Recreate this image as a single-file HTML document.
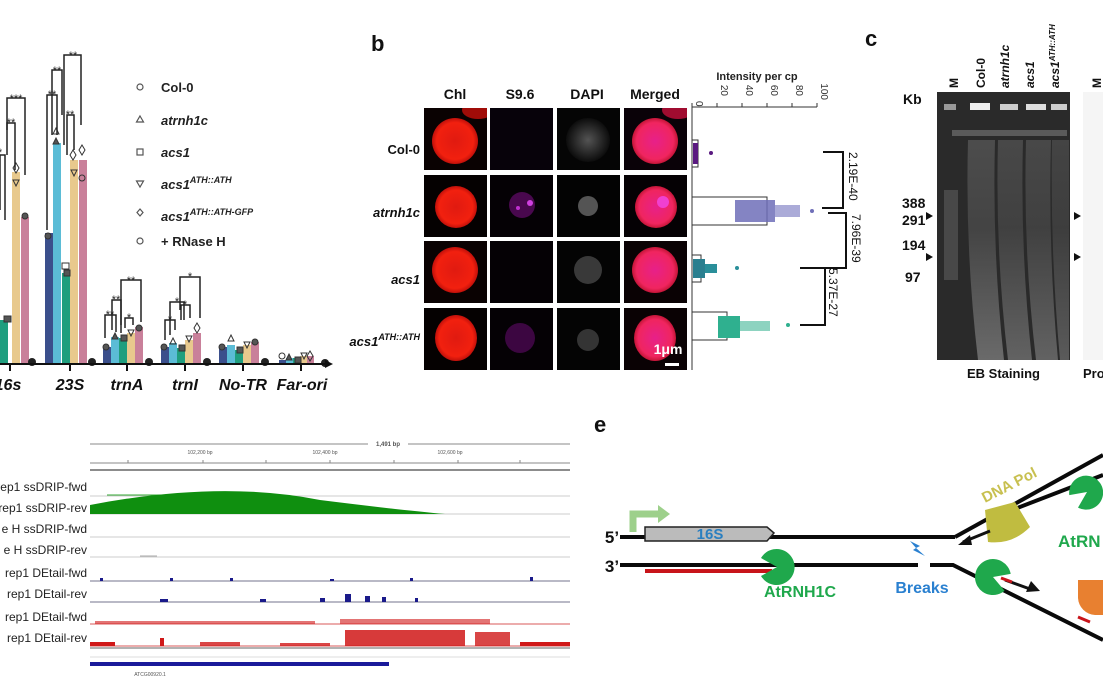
<!DOCTYPE html>
<html><head><meta charset="utf-8"><style>
html,body{margin:0;padding:0;background:#fff;}
svg{display:block;font-family:"Liberation Sans",Arial,sans-serif;}
</style></head><body>
<svg width="1103" height="678" viewBox="0 0 1103 678" xmlns="http://www.w3.org/2000/svg">
<!-- Panel a -->
<g>
<g>
<rect x="-20" y="227" width="20" height="137" fill="#5bbcd6"/>
<rect x="0" y="320" width="8" height="44" fill="#1f9e7e"/>
<rect x="12" y="172" width="8" height="192" fill="#e8c98d"/>
<rect x="21" y="217" width="8" height="147" fill="#c9809a"/>
<circle cx="32" cy="362" r="4" fill="#222"/>

<rect x="45" y="233" width="8" height="131" fill="#3b4f8c"/>
<rect x="53" y="143" width="8" height="221" fill="#5bbcd6"/>
<rect x="62" y="273" width="8" height="91" fill="#1f9e7e"/>
<rect x="70" y="160" width="8" height="204" fill="#e8c98d"/>
<rect x="79" y="160" width="8" height="204" fill="#c9809a"/>
<circle cx="92" cy="362" r="4" fill="#222"/>

<rect x="103" y="347" width="8" height="17" fill="#3b4f8c"/>
<rect x="111" y="337" width="8" height="27" fill="#5bbcd6"/>
<rect x="119" y="338" width="8" height="26" fill="#1f9e7e"/>
<rect x="127" y="333" width="8" height="31" fill="#e8c98d"/>
<rect x="135" y="327" width="8" height="37" fill="#c9809a"/>
<circle cx="149" cy="362" r="4" fill="#222"/>

<rect x="161" y="347" width="8" height="17" fill="#3b4f8c"/>
<rect x="169" y="343" width="8" height="21" fill="#5bbcd6"/>
<rect x="177" y="348" width="8" height="16" fill="#1f9e7e"/>
<rect x="185" y="340" width="8" height="24" fill="#e8c98d"/>
<rect x="193" y="333" width="8" height="31" fill="#c9809a"/>
<circle cx="207" cy="362" r="4" fill="#222"/>

<rect x="219" y="347" width="8" height="17" fill="#3b4f8c"/>
<rect x="227" y="345" width="8" height="19" fill="#5bbcd6"/>
<rect x="235" y="350" width="8" height="14" fill="#1f9e7e"/>
<rect x="243" y="345" width="8" height="19" fill="#e8c98d"/>
<rect x="251" y="342" width="8" height="22" fill="#c9809a"/>
<circle cx="265" cy="362" r="4" fill="#222"/>

<rect x="279" y="360" width="7" height="4" fill="#3b4f8c"/>
<rect x="286" y="358" width="7" height="6" fill="#5bbcd6"/>
<rect x="293" y="358" width="7" height="6" fill="#1f9e7e"/>
<rect x="300" y="356" width="7" height="8" fill="#e8c98d"/>
<rect x="307" y="356" width="7" height="8" fill="#c9809a"/>
<circle cx="325" cy="363" r="4" fill="#222"/>
</g>
<g fill="#555" stroke="#333" stroke-width="1">
<rect x="4" y="316" width="7" height="6"/><rect x="62" y="263" width="7" height="6" fill="none"/><rect x="64" y="270" width="6" height="6"/>
<circle cx="48" cy="236" r="3"/><path d="M56 128l3 6h-6z" fill="none"/><path d="M56 138l3 6h-6z"/>
<path d="M73 150l3 5l-3 5l-3-5z" fill="none"/><path d="M71 170h6l-3 6z" fill="none"/><circle cx="82" cy="178" r="3" fill="none"/><path d="M82 145l3 5l-3 5l-3-5z" fill="none"/>
<path d="M16 163l3 5l-3 5l-3-5z" fill="none"/><path d="M13 180h6l-3 6z" fill="none"/><circle cx="25" cy="216" r="3"/>
<circle cx="106" cy="347" r="3"/><path d="M115 333l3 6h-6z"/><rect x="121" y="335" width="6" height="6"/><path d="M128 330h6l-3 6z" fill="none"/><circle cx="139" cy="328" r="3"/>
<circle cx="164" cy="347" r="3"/><path d="M173 338l3 6h-6z" fill="none"/><rect x="179" y="345" width="6" height="6"/><path d="M186 336h6l-3 6z" fill="none"/><path d="M197 323l3 5l-3 5l-3-5z" fill="none"/>
<circle cx="222" cy="347" r="3"/><path d="M231 335l3 6h-6z" fill="none"/><rect x="237" y="347" width="6" height="6"/><path d="M244 342h6l-3 6z" fill="none"/><circle cx="255" cy="342" r="3"/>
<circle cx="282" cy="356" r="3" fill="none"/><path d="M289 354l3 6h-6z"/><rect x="295" y="357" width="6" height="6"/><path d="M301 353h6l-3 6z" fill="none"/><path d="M310 351l3 5l-3 5l-3-5z" fill="none"/>
</g>
<line x1="0" y1="364" x2="328" y2="364" stroke="#111" stroke-width="2"/>
<path d="M333 364l-8-4v8z" fill="#111"/>
<g stroke="#111" stroke-width="2">
<line x1="10" y1="364" x2="10" y2="371"/><line x1="70" y1="364" x2="70" y2="371"/><line x1="127" y1="364" x2="127" y2="371"/><line x1="185" y1="364" x2="185" y2="371"/><line x1="243" y1="364" x2="243" y2="371"/><line x1="301" y1="364" x2="301" y2="371"/>
</g>
<g font-size="16" font-weight="bold" font-style="italic" fill="#111" text-anchor="middle">
<text x="8" y="390">16s</text><text x="70" y="390">23S</text><text x="127" y="390">trnA</text><text x="185" y="390">trnI</text><text x="243" y="390">No-TR</text><text x="302" y="390">Far-ori</text>
</g>
<g stroke="#222" stroke-width="1.5" fill="none">
<path d="M0 210V155H5V220"/>
<path d="M7 130V98H25V175"/>
<path d="M7 155V123H15V170"/>
<path d="M47 230V95H57V135"/>
<path d="M52 135V70H62V115"/>
<path d="M64 145V55H81V125"/>
<path d="M67 155V115H74V150"/>
<path d="M105 338V315H116V332"/>
<path d="M112 330V300H121V325"/>
<path d="M121 333V280H141V322"/>
<path d="M125 328V318H133V325"/>
<path d="M165 340V320H175V330"/>
<path d="M170 335V302H184V320"/>
<path d="M181 320V305H190V318"/>
<path d="M180 310V277H200V318"/>
</g>
<g font-size="11" fill="#222" text-anchor="middle">
<text x="0" y="156">*</text><text x="16" y="102">***</text><text x="11" y="126">**</text>
<text x="52" y="98">**</text><text x="57" y="74">**</text><text x="73" y="59">**</text><text x="70" y="118">**</text>
<text x="110" y="318">**</text><text x="116" y="303">**</text><text x="131" y="284">**</text><text x="129" y="321">*</text>
<text x="170" y="323">*</text><text x="177" y="305">*</text><text x="185" y="308">*</text><text x="190" y="280">*</text>
</g>
<g fill="none" stroke="#555" stroke-width="1.2">
<circle cx="140" cy="87" r="3"/>
<path d="M140 116l3.5 6h-7z"/>
<rect x="137" y="149" width="6" height="6"/>
<path d="M136.5 181h7l-3.5 6z"/>
<path d="M140 209l3 3.5l-3 3.5l-3-3.5z"/>
<circle cx="140" cy="241" r="3"/>
</g>
<g font-size="13" font-weight="bold" fill="#222">
<text x="161" y="92">Col-0</text>
<text x="161" y="125" font-style="italic">atrnh1c</text>
<text x="161" y="157" font-style="italic">acs1</text>
<text x="161" y="189" font-style="italic">acs1<tspan font-size="9" dy="-6">ATH::ATH</tspan></text>
<text x="161" y="221" font-style="italic">acs1<tspan font-size="9" dy="-6">ATH::ATH-GFP</tspan></text>
<text x="161" y="246">+ RNase H</text>
</g>
</g>

<!-- Panel b -->
<g>
<text x="371" y="51" font-size="22" font-weight="bold" fill="#111">b</text>
<g font-size="14" font-weight="bold" fill="#111" text-anchor="middle">
<text x="455" y="99">Chl</text><text x="520" y="99">S9.6</text><text x="587" y="99">DAPI</text><text x="655" y="99">Merged</text>
</g>
<defs>
<radialGradient id="red" cx="50%" cy="50%" r="50%"><stop offset="0" stop-color="#e01a10"/><stop offset="0.8" stop-color="#f2200f"/><stop offset="1" stop-color="#c0100a"/></radialGradient>
<radialGradient id="mag" cx="50%" cy="50%" r="50%"><stop offset="0" stop-color="#e7208a"/><stop offset="0.8" stop-color="#f0255f"/><stop offset="1" stop-color="#c41537"/></radialGradient>
<radialGradient id="gr" cx="50%" cy="50%" r="50%"><stop offset="0" stop-color="#888"/><stop offset="1" stop-color="#111"/></radialGradient>
<clipPath id="c1"><rect x="424" y="108" width="63" height="62"/></clipPath>
<clipPath id="c4"><rect x="624" y="108" width="63" height="62"/></clipPath>
</defs>
<g>
<rect x="424" y="108" width="63" height="62" fill="#0a0202"/>
<g clip-path="url(#c1)"><circle cx="455" cy="141" r="23" fill="url(#red)"/><ellipse cx="478" cy="110" rx="16" ry="9" fill="#a00c08"/></g>
<rect x="490" y="108" width="63" height="62" fill="#07020a"/>
<rect x="557" y="108" width="63" height="62" fill="#050505"/><circle cx="588" cy="140" r="22" fill="url(#gr)" opacity="0.6"/>
<rect x="624" y="108" width="63" height="62" fill="#0a0208"/>
<g clip-path="url(#c4)"><circle cx="655" cy="141" r="23" fill="url(#mag)"/><ellipse cx="678" cy="110" rx="16" ry="9" fill="#a00c30"/></g>
<rect x="424" y="175" width="63" height="62" fill="#050101"/><circle cx="456" cy="207" r="21" fill="url(#red)"/>
<rect x="490" y="175" width="63" height="62" fill="#050105"/><circle cx="522" cy="205" r="13" fill="#5a0a60" opacity="0.8"/><circle cx="530" cy="203" r="3" fill="#d040e0"/><circle cx="518" cy="208" r="2" fill="#c030d0"/>
<rect x="557" y="175" width="63" height="62" fill="#030303"/><circle cx="588" cy="206" r="10" fill="#777" opacity="0.7"/>
<rect x="624" y="175" width="63" height="62" fill="#050104"/><circle cx="656" cy="207" r="21" fill="url(#mag)"/><circle cx="663" cy="202" r="6" fill="#f040d0"/>
<rect x="424" y="241" width="63" height="62" fill="#0a0202"/><circle cx="455" cy="270" r="23" fill="url(#red)"/>
<rect x="490" y="241" width="63" height="62" fill="#050105"/>
<rect x="557" y="241" width="63" height="62" fill="#040404"/><circle cx="588" cy="270" r="14" fill="#666" opacity="0.55"/>
<rect x="624" y="241" width="63" height="62" fill="#0a0204"/><circle cx="655" cy="270" r="23" fill="url(#mag)"/>
<rect x="424" y="308" width="63" height="62" fill="#050101"/><ellipse cx="456" cy="338" rx="21" ry="23" fill="url(#red)"/>
<rect x="490" y="308" width="63" height="62" fill="#050105"/><circle cx="520" cy="338" r="15" fill="#4a0850" opacity="0.8"/>
<rect x="557" y="308" width="63" height="62" fill="#040404"/><circle cx="588" cy="340" r="11" fill="#555" opacity="0.6"/>
<rect x="624" y="308" width="63" height="62" fill="#0a0204"/><ellipse cx="655" cy="338" rx="21" ry="23" fill="url(#mag)"/>
<text x="668" y="354" font-size="14" font-weight="bold" fill="#fff" text-anchor="middle">1μm</text>
<rect x="665" y="363" width="14" height="3" fill="#fff"/>
</g>
<g font-size="13" font-weight="bold" fill="#111" text-anchor="end">
<text x="420" y="154">Col-0</text>
<text x="420" y="217" font-style="italic">atrnh1c</text>
<text x="420" y="284" font-style="italic">acs1</text>
<text x="420" y="346" font-style="italic">acs1<tspan font-size="9" dy="-6">ATH::ATH</tspan></text>
</g>
<text x="757" y="80" font-size="11" font-weight="bold" fill="#222" text-anchor="middle">Intensity per cp</text>
<g stroke="#333" stroke-width="1" fill="none">
<line x1="692" y1="107" x2="692" y2="370"/>
<line x1="692" y1="107" x2="817" y2="107"/>
<line x1="692" y1="107" x2="692" y2="103"/><line x1="717" y1="107" x2="717" y2="103"/><line x1="742" y1="107" x2="742" y2="103"/><line x1="767" y1="107" x2="767" y2="103"/><line x1="792" y1="107" x2="792" y2="103"/><line x1="817" y1="107" x2="817" y2="103"/>
<rect x="692" y="140" width="6" height="27"/>
<rect x="692" y="197" width="75" height="28"/>
<rect x="692" y="255" width="9" height="27"/>
<rect x="692" y="312" width="35" height="28"/>
</g>
<g font-size="10" fill="#333">
<text transform="translate(696,101) rotate(90)">0</text>
<text transform="translate(721,96) rotate(90)" text-anchor="end">20</text>
<text transform="translate(746,96) rotate(90)" text-anchor="end">40</text>
<text transform="translate(771,96) rotate(90)" text-anchor="end">60</text>
<text transform="translate(796,96) rotate(90)" text-anchor="end">80</text>
<text transform="translate(821,100) rotate(90)" text-anchor="end">100</text>
</g>
<g>
<rect x="693" y="143" width="5" height="21" fill="#5a1a80"/><circle cx="711" cy="153" r="2" fill="#5a1a80"/>
<rect x="735" y="200" width="40" height="22" fill="#6f6fb8" opacity="0.85"/><rect x="775" y="205" width="25" height="12" fill="#8888c8" opacity="0.7"/><circle cx="812" cy="211" r="2" fill="#6f6fb8"/>
<rect x="693" y="259" width="12" height="19" fill="#2a7f8f"/><rect x="705" y="264" width="12" height="9" fill="#2a8f9a"/><circle cx="737" cy="268" r="2" fill="#2a8f9a"/>
<rect x="718" y="316" width="22" height="22" fill="#2fb08f"/><rect x="740" y="321" width="30" height="10" fill="#5cc0a5" opacity="0.7"/><circle cx="788" cy="325" r="2" fill="#2fb08f"/>
</g>
<g stroke="#111" stroke-width="2" fill="none">
<path d="M823 152H843V208H822"/>
<path d="M828 213H846V268H820"/>
<path d="M800 268H825V325H800"/>
</g>
<g font-size="12" fill="#111">
<text transform="translate(849,152) rotate(90)">2.19E-40</text>
<text transform="translate(852,214) rotate(90)">7.96E-39</text>
<text transform="translate(829,268) rotate(90)">5.37E-27</text>
</g>
</g>

<!-- Panel c -->
<g>
<text x="865" y="46" font-size="22" font-weight="bold" fill="#111">c</text>
<rect x="937" y="92" width="133" height="268" fill="#2a2a2a"/>
<defs><linearGradient id="lane" x1="0" y1="0" x2="0" y2="1"><stop offset="0" stop-color="#555"/><stop offset="0.4" stop-color="#4a4a4a"/><stop offset="1" stop-color="#7a7a7a"/></linearGradient></defs>
<path d="M968 140 Q965 250 978 360 H1004 Q992 250 995 140Z" fill="url(#lane)" opacity="0.8"/>
<path d="M998 140 Q995 250 1008 360 H1032 Q1020 250 1023 140Z" fill="url(#lane)" opacity="0.7"/>
<path d="M1026 140 Q1023 250 1036 360 H1058 Q1048 250 1051 140Z" fill="url(#lane)" opacity="0.7"/>
<path d="M1052 140 Q1050 250 1060 360 H1069 V140Z" fill="url(#lane)" opacity="0.6"/>
<rect x="952" y="130" width="115" height="6" fill="#666" opacity="0.8"/>
<rect x="970" y="103" width="20" height="7" fill="#eee"/><rect x="1000" y="104" width="18" height="6" fill="#ccc"/><rect x="1026" y="104" width="20" height="6" fill="#ddd"/><rect x="1051" y="104" width="16" height="6" fill="#ccc"/>
<rect x="944" y="104" width="12" height="6" fill="#999"/>
<rect x="944" y="190" width="14" height="90" fill="#555" opacity="0.7"/>
<rect x="1083" y="92" width="20" height="268" fill="#f5f5f5"/>
<g font-size="14" font-weight="bold" fill="#111">
<text x="903" y="104">Kb</text>
<text x="902" y="208">388</text><text x="902" y="225">291</text><text x="902" y="250">194</text><text x="905" y="282">97</text>
<text x="967" y="378" font-size="13">EB Staining</text>
<text x="1083" y="378" font-size="13">Pro</text>
</g>
<path d="M926 212l7 4l-7 4z M926 253l7 4l-7 4z M1074 212l7 4l-7 4z M1074 253l7 4l-7 4z" fill="#111"/>
<g font-size="12" font-weight="bold" fill="#111">
<text transform="translate(958,88) rotate(-90)">M</text>
<text transform="translate(985,88) rotate(-90)">Col-0</text>
<text transform="translate(1009,88) rotate(-90)" font-style="italic">atrnh1c</text>
<text transform="translate(1034,88) rotate(-90)" font-style="italic">acs1</text>
<text transform="translate(1059,88) rotate(-90)" font-style="italic">acs1<tspan font-size="8" dy="-4">ATH::ATH</tspan></text>
<text transform="translate(1101,88) rotate(-90)">M</text>
</g>
</g>

<!-- Panel d -->
<g>
<g stroke="#888" fill="none" stroke-width="1">
<line x1="90" y1="444" x2="368" y2="444"/><line x1="408" y1="444" x2="570" y2="444"/>
<line x1="90" y1="463" x2="570" y2="463"/>
<line x1="90" y1="470" x2="570" y2="470" stroke="#666" stroke-width="1.5"/>
<line x1="90" y1="496" x2="570" y2="496" stroke="#ccc"/>
<line x1="90" y1="514" x2="570" y2="514" stroke="#ccc"/>
<line x1="90" y1="537" x2="570" y2="537" stroke="#ccc"/>
<line x1="90" y1="557" x2="570" y2="557" stroke="#ccc"/>
<line x1="90" y1="648" x2="570" y2="648" stroke="#999" stroke-width="1.5"/>
<line x1="90" y1="657" x2="570" y2="657" stroke="#ddd"/>
<line x1="128" y1="460" x2="128" y2="463"/><line x1="203" y1="460" x2="203" y2="463"/><line x1="266" y1="460" x2="266" y2="463"/><line x1="330" y1="460" x2="330" y2="463"/><line x1="394" y1="460" x2="394" y2="463"/><line x1="458" y1="460" x2="458" y2="463"/><line x1="520" y1="460" x2="520" y2="463"/>
</g>
<g font-size="5" fill="#555" text-anchor="middle">
<text x="388" y="446" font-size="6" font-weight="bold">1,491 bp</text>
<text x="200" y="454">102,200 bp</text><text x="325" y="454">102,400 bp</text><text x="450" y="454">102,600 bp</text>
<text x="150" y="676">ATCG00920.1</text>
</g>
<line x1="107" y1="495" x2="220" y2="495" stroke="#3a3" stroke-width="1"/>
<path d="M90 505 Q220 480 320 500 Q400 510 445 514 L570 514 L90 514Z" fill="#0f8f0f"/>
<line x1="140" y1="556" x2="157" y2="556" stroke="#aaa"/>
<line x1="90" y1="581" x2="570" y2="581" stroke="#446" stroke-width="0.8"/>
<line x1="90" y1="602" x2="570" y2="602" stroke="#446" stroke-width="0.8"/>
<line x1="90" y1="624" x2="570" y2="624" stroke="#c22" stroke-width="0.8"/>
<line x1="90" y1="646" x2="570" y2="646" stroke="#c22" stroke-width="0.8"/>
<g fill="#1a1a8a">
<rect x="100" y="578" width="3" height="3"/><rect x="170" y="578" width="3" height="3"/><rect x="230" y="578" width="3" height="3"/><rect x="330" y="579" width="4" height="2"/><rect x="410" y="578" width="3" height="3"/><rect x="530" y="577" width="3" height="4"/>
<rect x="320" y="598" width="5" height="4"/><rect x="345" y="594" width="6" height="8"/><rect x="365" y="596" width="5" height="6"/><rect x="382" y="597" width="4" height="5"/><rect x="415" y="598" width="3" height="4"/><rect x="160" y="599" width="8" height="3"/><rect x="260" y="599" width="6" height="3"/>
</g>
<g fill="#d01818">
<rect x="95" y="621" width="220" height="3" opacity="0.6"/><rect x="340" y="619" width="150" height="5" opacity="0.6"/>
<rect x="90" y="642" width="25" height="4"/><rect x="160" y="638" width="4" height="8"/><rect x="200" y="642" width="40" height="4" opacity="0.8"/><rect x="280" y="643" width="50" height="3" opacity="0.8"/>
<rect x="345" y="630" width="120" height="16" opacity="0.85"/><rect x="475" y="632" width="35" height="14" opacity="0.8"/><rect x="520" y="642" width="50" height="4"/>
</g>
<rect x="90" y="662" width="299" height="4" fill="#1a1a9a"/>
<g font-size="12" fill="#222" text-anchor="end">
<text x="87" y="491">rep1 ssDRIP-fwd</text>
<text x="87" y="512">rep1 ssDRIP-rev</text>
<text x="87" y="533">e H ssDRIP-fwd</text>
<text x="87" y="554">e H ssDRIP-rev</text>
<text x="87" y="577">rep1 DEtail-fwd</text>
<text x="87" y="598">rep1 DEtail-rev</text>
<text x="87" y="621">rep1 DEtail-fwd</text>
<text x="87" y="642">rep1 DEtail-rev</text>
</g>
</g>

<!-- Panel e -->
<g>
<text x="594" y="432" font-size="22" font-weight="bold" fill="#111">e</text>
<g stroke="#0a0a0a" stroke-width="4" fill="none">
<line x1="620" y1="537" x2="955" y2="537"/>
<line x1="620" y1="565" x2="918" y2="565"/>
<path d="M930 565 H953 L1103 640"/>
<line x1="955" y1="537" x2="1103" y2="455"/>
<line x1="1012" y1="510" x2="1103" y2="475"/>
</g>
<line x1="645" y1="571" x2="772" y2="571" stroke="#c8141a" stroke-width="4"/>
<path d="M645 527 H767 L774 533 L767 541 H645Z" fill="#bbb" stroke="#222" stroke-width="1.5"/>
<text x="710" y="539" font-size="15" font-weight="bold" fill="#2a7fc0" text-anchor="middle">16S</text>
<path d="M633 532 V514 H660" stroke="#9dd08b" stroke-width="7" fill="none"/>
<path d="M658 505 L670 514 L658 523Z" fill="#9dd08b"/>
<text x="612" y="543" font-size="17" font-weight="bold" fill="#111" text-anchor="middle">5’</text>
<text x="612" y="572" font-size="17" font-weight="bold" fill="#111" text-anchor="middle">3’</text>
<path d="M777 567 L761 558 A18 18 0 1 1 761 576Z" fill="#1fa84c"/>
<text x="800" y="597" font-size="16" font-weight="bold" fill="#1fa84c" text-anchor="middle">AtRNH1C</text>
<path d="M910 541 L920 546 L916 548 L925 556 L913 550 L916 548Z" fill="#2a80d0"/>
<text x="922" y="593" font-size="16" font-weight="bold" fill="#2a80d0" text-anchor="middle">Breaks</text>
<path d="M985 510 L1015 502 L1030 527 Q1012 545 988 542Z" fill="#c0bc40"/>
<text transform="translate(985,503) rotate(-27)" font-size="15" font-weight="bold" fill="#c8c050">DNA Pol</text>
<path d="M990 531 L963 542" stroke="#111" stroke-width="3"/><path d="M958 545 L970 535 L972 545Z" fill="#111"/>
<path d="M993 577 L1010.7 573.9 A18 18 0 1 0 1004.6 590.8Z" fill="#1fa84c"/>
<line x1="1005" y1="580" x2="1030" y2="589" stroke="#111" stroke-width="3"/><line x1="1001" y1="578" x2="1012" y2="582" stroke="#c8141a" stroke-width="3"/>
<path d="M1040 591 L1026 592 L1031 581Z" fill="#111"/>
<path d="M1087 492 L1069.3 495.1 A17 17 0 1 1 1078 507.6Z" fill="#1fa84c"/>
<text x="1058" y="547" font-size="17" font-weight="bold" fill="#1fa84c">AtRN</text>
<path d="M1078 580 H1103 V615 H1095 A18 18 0 0 1 1078 598Z" fill="#e88030"/>
<line x1="1078" y1="617" x2="1090" y2="622" stroke="#c8141a" stroke-width="3"/>
</g>
</svg>
</body></html>
